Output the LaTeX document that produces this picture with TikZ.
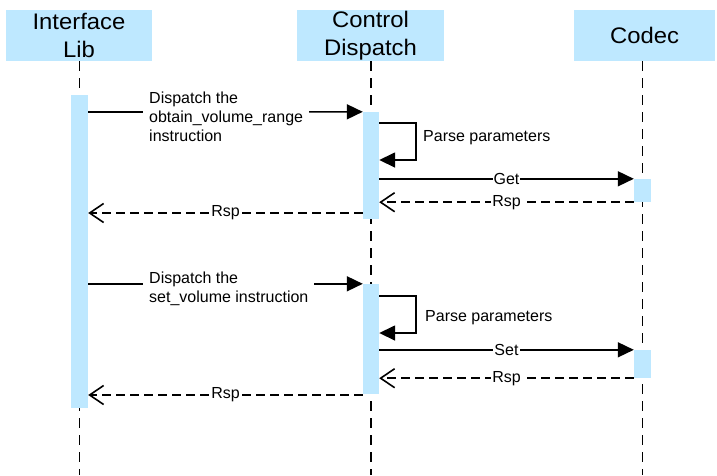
\documentclass[tikz,border=0pt]{standalone}
\usepackage{fontspec}
\setmainfont{Liberation Sans}
\newfontfamily\hdrfont[FakeStretch=1.06]{Liberation Sans}
\usetikzlibrary{arrows.meta}
\definecolor{actblue}{RGB}{190,232,255}
\begin{document}
\begin{tikzpicture}[x=1pt,y=-1pt,
  header/.style={fill=actblue, draw=none, inner sep=0pt, align=center, minimum height=51pt, font=\hdrfont\fontsize{22.5}{28.5}\selectfont},
  actbar/.style={fill=actblue, draw=none, inner sep=0pt},
  lifeline/.style={line width=1.5pt, dash pattern=on 10pt off 7pt},
  msg/.style={line width=1.6pt, -{Triangle[length=16pt,width=15pt]}},
  reply/.style={line width=1.6pt, dash pattern=on 9pt off 5pt, -{Straight Barb[length=14pt,width=19pt]}},
  lbl/.style={fill=white, inner sep=1pt, font=\fontsize{16}{19}\selectfont},
  msglbl/.style={fill=white, inner xsep=6pt, inner ysep=1pt, align=left, anchor=north west, font=\fontsize{16}{19}\selectfont},
  selflbl/.style={inner sep=0pt, anchor=base west, font=\fontsize{16}{19}\selectfont}
]
\useasboundingbox (0,0) rectangle (717,475);

% headers
\node[header, minimum width=146pt] (hIL) at (79,35.5) {Interface\\Lib};
\node[header, minimum width=147pt] (hCD) at (370.5,35.5) {Control\\Dispatch};
\node[header, minimum width=141pt] (hCo) at (644.5,35.5) {Codec};

% level coordinates
\coordinate (yEnd) at (0,475);
\coordinate (y112) at (0,112);
\coordinate (y123) at (0,123);
\coordinate (y160) at (0,160);
\coordinate (y213) at (0,213);
\coordinate (y296) at (0,296);
\coordinate (y333) at (0,333);
\coordinate (y395) at (0,395);
\coordinate (lx1) at (416,0);
\coordinate (lx2) at (416,0);

% activation bars (positioned first so lifelines can reference them)
\path node[actbar, minimum width=17pt, minimum height=313pt] (a1) at (79.5,251.5) {};
\path node[actbar, minimum width=16pt, minimum height=107pt] (c1) at (371,165.5) {};
\path node[actbar, minimum width=17pt, minimum height=23pt] (d1) at (642.5,190.5) {};
\path node[actbar, minimum width=16pt, minimum height=110pt] (c2) at (371,339) {};
\path node[actbar, minimum width=17pt, minimum height=28pt] (d2) at (642.5,364) {};

% lifelines
\draw[lifeline] (a1 |- hIL.south) -- (a1 |- yEnd);
\draw[lifeline] (c1 |- hCD.south) -- (c1 |- yEnd);
\draw[lifeline] (d1 |- hCo.south) -- (d1 |- yEnd);

% redraw bars on top of lifelines
\fill[actblue] (a1.north west) rectangle (a1.south east);
\fill[actblue] (c1.north west) rectangle (c1.south east);
\fill[actblue] (d1.north west) rectangle (d1.south east);
\fill[actblue] (c2.north west) rectangle (c2.south east);
\fill[actblue] (d2.north west) rectangle (d2.south east);

% first exchange
\draw[msg] (a1.east |- y112) -- (c1.north west);
\node[msglbl] (m1) at (143,91) {Dispatch the\\obtain\_volume\_range\\instruction};
\draw[msg] (c1.east |- y123) -- (lx1 |- y123) -- (lx1 |- y160) -- (c1.east |- y160);
\node[selflbl] (p1) at (423,141) {Parse parameters};
\draw[msg] (c1.east |- d1.north) -- node[lbl] (g1) {Get} (d1.north west);
\draw[reply] (d1.south west) -- node[lbl] (r1) {Rsp} (c1.east |- d1.south);
\draw[reply] (c1.west |- y213) -- node[lbl] (r2) {Rsp} (a1.east |- y213);

% second exchange
\draw[msg] (a1.east |- c2.north) -- (c2.north west);
\node[msglbl] (m2) at (143,271) {Dispatch the\\set\_volume instruction};
\draw[msg] (c2.east |- y296) -- (lx2 |- y296) -- (lx2 |- y333) -- (c2.east |- y333);
\node[selflbl] (p2) at (425,321) {Parse parameters};
\draw[msg] (c2.east |- d2.north) -- node[lbl] (s1) {Set} (d2.north west);
\draw[reply] (d2.south west) -- node[lbl] (r3) {Rsp} (c2.east |- d2.south);
\draw[reply] (c2.west |- y395) -- node[lbl] (r4) {Rsp} (a1.east |- y395);
\end{tikzpicture}
\end{document}
